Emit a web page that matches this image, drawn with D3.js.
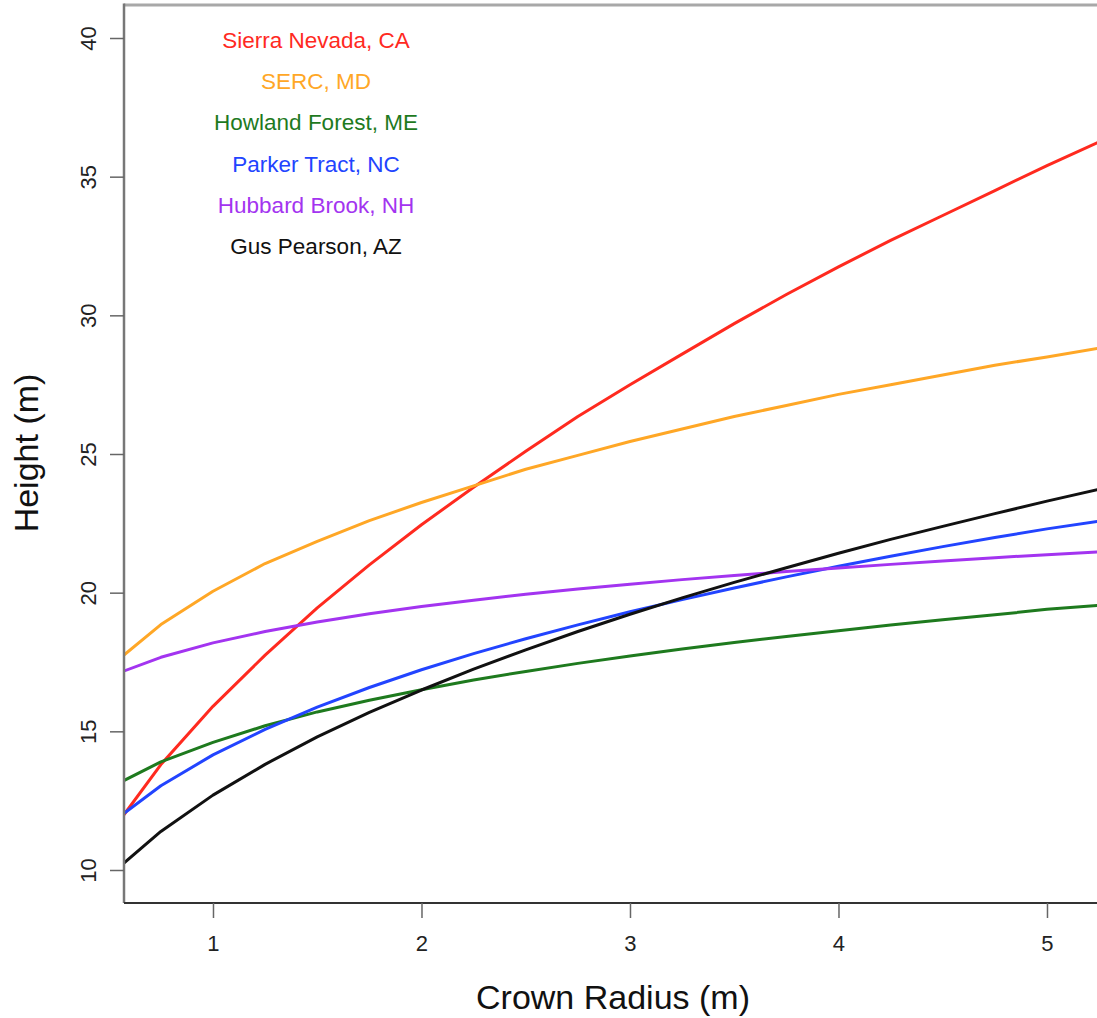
<!DOCTYPE html>
<html>
<head>
<meta charset="utf-8">
<script src="https://cdn.jsdelivr.net/npm/d3@7/dist/d3.min.js"></script>
<style>
  body { margin: 0; background: #fff; }
  svg { display: block; font-family: "Liberation Sans", Arial, sans-serif; }
</style>
</head>
<body>
<svg id="chart" width="1097" height="1018"></svg>
<script>
'use strict';

// crown radius (m) at which each curve was evaluated
var crownRadius = [0.5, 0.75, 1.0, 1.25, 1.5, 1.75, 2.0, 2.25, 2.5, 2.75, 3.0,
                   3.25, 3.5, 3.75, 4.0, 4.25, 4.5, 4.75, 5.0, 5.25, 5.5];

// height (m) per site
var sierraNevada  = [11.25, 13.8, 15.9, 17.75, 19.45, 21.0, 22.45, 23.8, 25.1, 26.35, 27.5,
                     28.6, 29.7, 30.75, 31.75, 32.7, 33.6, 34.5, 35.4, 36.25, 37.1];
var serc          = [17.3, 18.85, 20.05, 21.05, 21.85, 22.6, 23.25, 23.85, 24.45, 24.95, 25.45,
                     25.9, 26.35, 26.75, 27.15, 27.5, 27.85, 28.2, 28.5, 28.82, 29.1];
var howlandForest = [12.95, 13.9, 14.6, 15.2, 15.7, 16.12, 16.5, 16.85, 17.16, 17.45, 17.72,
                     17.97, 18.2, 18.42, 18.63, 18.83, 19.02, 19.2, 19.4, 19.54, 19.7];
var parkerTract   = [11.63, 13.04, 14.15, 15.07, 15.87, 16.58, 17.22, 17.8, 18.34, 18.84, 19.31,
                     19.75, 20.17, 20.57, 20.95, 21.31, 21.66, 21.99, 22.3, 22.58, 22.85];
var hubbardBrook  = [16.97, 17.67, 18.19, 18.6, 18.94, 19.24, 19.5, 19.73, 19.94, 20.13, 20.3,
                     20.47, 20.62, 20.76, 20.89, 21.02, 21.14, 21.26, 21.37, 21.47, 21.57];
var gusPearson    = [9.78, 11.39, 12.7, 13.81, 14.8, 15.68, 16.49, 17.24, 17.94, 18.6, 19.22,
                     19.81, 20.37, 20.9, 21.42, 21.92, 22.39, 22.85, 23.3, 23.73, 24.15];

var siteNames  = ['Sierra Nevada, CA', 'SERC, MD', 'Howland Forest, ME',
                  'Parker Tract, NC', 'Hubbard Brook, NH', 'Gus Pearson, AZ'];
var siteValues = [sierraNevada, serc, howlandForest, parkerTract, hubbardBrook, gusPearson];
var siteColors = ['#ff2a1f', '#ffa726', '#1e7a1e', '#2244ff', '#a334f0', '#111111'];

var xTicks = [1, 2, 3, 4, 5];
var yTicks = [10, 15, 20, 25, 30, 35, 40];

var strTickFont = '"Liberation Sans Narrow", "Liberation Sans", Arial, sans-serif';

var svg = d3.select('#chart');

var nLeft = 124, nTop = 5, nBottom = 903, nRight = 1120;

var xScale = d3.scaleLinear()
	.domain([0.5732, 0.5732 + (nRight - nLeft) / 208.5])
	.range([nLeft, nRight]);

var yScale = d3.scaleLinear()
	.domain([8.81, 41.19])
	.range([nBottom, nTop]);

svg.append('defs').append('clipPath')
	.attr('id', 'plotclip')
	.append('rect')
	.attr('x', nLeft)
	.attr('y', nTop)
	.attr('width', nRight - nLeft)
	.attr('height', nBottom - nTop);

// curves
var line = d3.line()
	.x(function(d) { return xScale(d[0]); })
	.y(function(d) { return yScale(d[1]); });

var gLines = svg.append('g').attr('clip-path', 'url(#plotclip)');
siteValues.forEach(function(arrayValues, i) {
	var arrayPoints = crownRadius.map(function(x, j) { return [x, arrayValues[j]]; });
	gLines.append('path')
		.attr('d', line(arrayPoints))
		.attr('fill', 'none')
		.attr('stroke', siteColors[i])
		.attr('stroke-width', 3)
		.attr('stroke-linejoin', 'round');
});

// box
svg.append('line')
	.attr('x1', nLeft).attr('x2', nRight)
	.attr('y1', nTop).attr('y2', nTop)
	.attr('stroke', '#a8a8a8').attr('stroke-width', 3);
svg.append('line')
	.attr('x1', nLeft).attr('x2', nLeft)
	.attr('y1', nTop - 1.5).attr('y2', nBottom)
	.attr('stroke', '#777').attr('stroke-width', 2.5);
svg.append('line')
	.attr('x1', nLeft).attr('x2', nRight)
	.attr('y1', nBottom).attr('y2', nBottom)
	.attr('stroke', '#333').attr('stroke-width', 2);

// axes
var xAxis = svg.append('g')
	.attr('transform', 'translate(0,' + nBottom + ')')
	.call(d3.axisBottom(xScale).tickValues(xTicks).tickSize(15).tickPadding(17).tickFormat(d3.format('d')));
xAxis.select('.domain').remove();
xAxis.selectAll('line').attr('stroke', '#666').attr('stroke-width', 1.5);
xAxis.selectAll('text').attr('font-size', 22).attr('fill', '#222')
	.attr('font-family', strTickFont);

var yAxis = svg.append('g')
	.attr('transform', 'translate(' + nLeft + ',0)')
	.call(d3.axisLeft(yScale).tickValues(yTicks).tickSize(14).tickFormat(d3.format('d')));
yAxis.select('.domain').remove();
yAxis.selectAll('line').attr('stroke', '#666').attr('stroke-width', 1.5);
yAxis.selectAll('text')
	.attr('font-size', 22).attr('fill', '#222')
	.attr('font-family', strTickFont)
	.attr('text-anchor', 'middle')
	.attr('dy', null)
	.attr('x', 0).attr('y', 0)
	.attr('transform', 'translate(-36,0) rotate(-90)')
	.attr('dominant-baseline', 'central');

// axis titles
svg.append('text')
	.attr('x', 613).attr('y', 1009)
	.attr('text-anchor', 'middle')
	.attr('font-size', 34)
	.attr('fill', '#111')
	.text('Crown Radius (m)');

svg.append('text')
	.attr('transform', 'translate(38,453) rotate(-90)')
	.attr('text-anchor', 'middle')
	.attr('font-size', 34)
	.attr('fill', '#111')
	.text('Height (m)');

// legend
svg.selectAll('text.legend')
	.data(siteNames)
	.enter()
	.append('text')
	.attr('class', 'legend')
	.attr('x', 316)
	.attr('y', function(d, i) { return 48 + i * 41.2; })
	.attr('text-anchor', 'middle')
	.attr('font-size', 22.5)
	.attr('fill', function(d, i) { return siteColors[i]; })
	.text(function(d) { return d; });
</script>
</body>
</html>
